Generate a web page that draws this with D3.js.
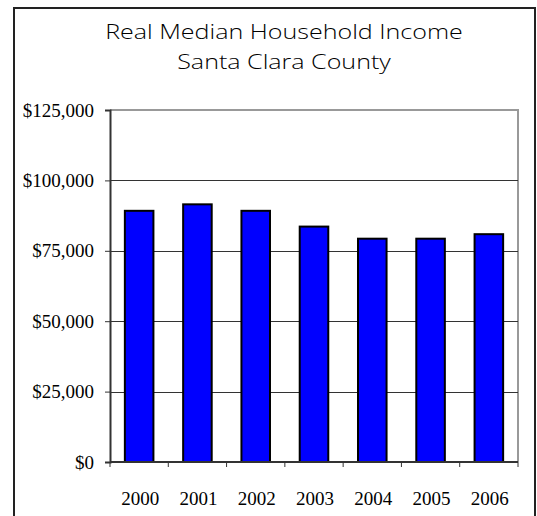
<!DOCTYPE html>
<html>
<head>
<meta charset="utf-8">
<script src="https://cdn.jsdelivr.net/npm/d3@7"></script>
<style>
  html, body { margin: 0; padding: 0; background: #fff; }
  svg { display: block; }
</style>
</head>
<body>
<svg id="chart" width="537" height="516"></svg>
<script>
// Real median household income, Santa Clara County
const years = ["2000", "2001", "2002", "2003", "2004", "2005", "2006"];
const income = [89200, 91500, 89200, 83600, 79300, 79300, 80900];
const yTicks = [0, 25000, 50000, 75000, 100000, 125000];
const titleLines = ["Real Median Household Income", "Santa Clara County"];

const svg = d3.select("#chart");
const plot = { left: 110, right: 518, top: 110, bottom: 462 };

// outer frame
svg.append("rect")
  .attr("x", 14).attr("y", 8)
  .attr("width", 521).attr("height", 520)
  .attr("fill", "none").attr("stroke", "#222").attr("stroke-width", 2);

// title: light sans, widened so the first line spans ~358px
const title = svg.append("g").selectAll("text").data(titleLines).join("text")
  .attr("text-anchor", "middle")
  .attr("font-family", "'Open Sans', sans-serif")
  .attr("font-weight", 300)
  .attr("font-size", 21)
  .attr("fill", "#000")
  .text(d => d);
const firstWidth = title.node().getComputedTextLength();
const stretch = 358 / firstWidth;
title.attr("transform", (d, i) => `translate(284,${39 + i * 30}) scale(${stretch},1)`);

const x = d3.scaleBand().domain(years)
  .range([plot.left, plot.right]).paddingInner(0.51).paddingOuter(0.255);
const xCat = d3.scaleBand().domain(years).range([plot.left, plot.right]);
const y = d3.scaleLinear().domain([0, 125000]).range([plot.bottom, plot.top]);

// plot frame (top & right in grey)
svg.append("path")
  .attr("d", `M${plot.left},${plot.top}H${plot.right}V${plot.bottom}`)
  .attr("fill", "none").attr("stroke", "#999").attr("stroke-width", 2);

// gridlines
svg.append("g").selectAll("line").data(yTicks.filter(t => t > 0 && t < 125000)).join("line")
  .attr("x1", plot.left).attr("x2", plot.right)
  .attr("y1", d => Math.round(y(d)) + 0.5).attr("y2", d => Math.round(y(d)) + 0.5)
  .attr("stroke", "#333").attr("stroke-width", 1);

// bars
svg.append("g").selectAll("rect").data(income).join("rect")
  .attr("x", (d, i) => x(years[i]))
  .attr("y", d => y(d))
  .attr("width", x.bandwidth())
  .attr("height", d => y(0) - y(d))
  .attr("fill", "#0000ff")
  .attr("stroke", "#000").attr("stroke-width", 2);

// y axis
const yAxis = d3.axisLeft(y).tickValues(yTicks).tickSize(5).tickPadding(11)
  .tickFormat(d => "$" + d3.format(",")(d));
const gy = svg.append("g").attr("transform", `translate(${plot.left},0)`).call(yAxis);
gy.select(".domain").attr("stroke", "#333").attr("stroke-width", 2);
gy.selectAll(".tick line").attr("stroke", "#333");
gy.selectAll("text")
  .attr("font-family", "'Liberation Serif', 'Times New Roman', serif")
  .attr("font-size", 19).attr("fill", "#000");

// x axis: ticks at category boundaries
const gx = svg.append("g").attr("transform", `translate(0,${plot.bottom})`);
gx.append("line")
  .attr("x1", plot.left).attr("x2", plot.right)
  .attr("stroke", "#333").attr("stroke-width", 2);
const bounds = years.map(d => xCat(d)).concat([plot.right]);
gx.selectAll("line.tk").data(bounds).join("line").attr("class", "tk")
  .attr("x1", d => d).attr("x2", d => d).attr("y1", 0).attr("y2", 5)
  .attr("stroke", "#333").attr("stroke-width", 1);
gx.selectAll("text").data(years).join("text")
  .attr("x", d => xCat(d) + xCat.bandwidth() / 2 + 1)
  .attr("y", 43)
  .attr("text-anchor", "middle")
  .attr("font-family", "'Liberation Serif', 'Times New Roman', serif")
  .attr("font-size", 19).attr("fill", "#000")
  .text(d => d);
</script>
</body>
</html>
